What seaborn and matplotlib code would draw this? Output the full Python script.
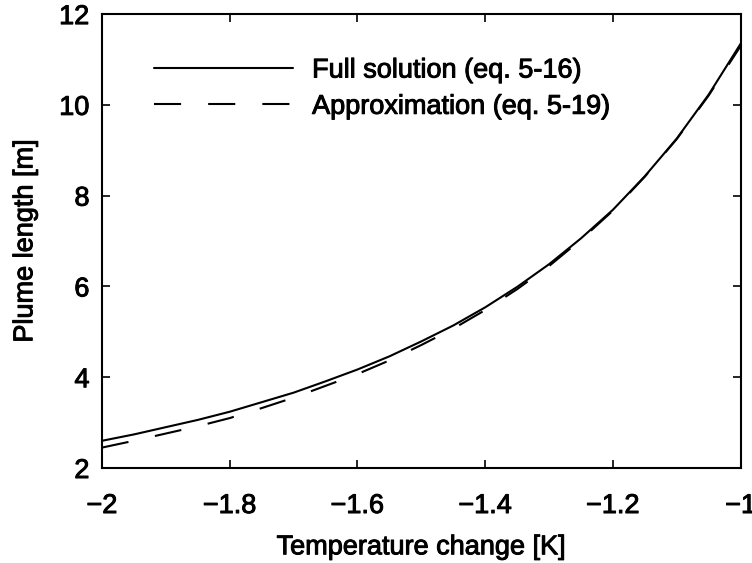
import matplotlib
matplotlib.use("Agg")
import matplotlib.pyplot as plt
import matplotlib.patheffects as pe
import seaborn as sns
import pandas as pd

temp_change = [-2.0, -1.95, -1.9, -1.85, -1.8, -1.75, -1.7, -1.65, -1.6, -1.55, -1.5,
               -1.45, -1.4, -1.35, -1.3, -1.25, -1.2, -1.15, -1.1, -1.05, -1.0]
full_solution = [2.60, 2.74, 2.90, 3.06, 3.24, 3.45, 3.66, 3.91, 4.17, 4.46, 4.79,
                 5.14, 5.54, 5.99, 6.49, 7.06, 7.69, 8.43, 9.26, 10.23, 11.35]
approximation = [2.45, 2.60, 2.76, 2.92, 3.10, 3.32, 3.55, 3.81, 4.07, 4.37, 4.71,
                 5.07, 5.48, 5.94, 6.45, 7.03, 7.67, 8.42, 9.25, 10.21, 11.30]

label_full = "Full solution (eq. 5-16)"
label_approx = "Approximation (eq. 5-19)"

sns.set_style("ticks")
plt.rcParams['font.family'] = ['Liberation Sans', 'DejaVu Sans']
plt.rcParams['text.color'] = 'black'
plt.rcParams['axes.labelcolor'] = 'black'
plt.rcParams['xtick.color'] = 'black'
plt.rcParams['ytick.color'] = 'black'

FS = 19.5
heavy = [pe.withStroke(linewidth=0.7, foreground="black")]

df = pd.DataFrame({
    "x": temp_change * 2,
    "y": full_solution + approximation,
    "series": [label_full] * len(temp_change) + [label_approx] * len(temp_change),
})

fig = plt.figure(figsize=(7.52, 5.63), dpi=100)
ax = fig.add_axes([0.1356, 0.1687, 0.8494, 0.8063])

sns.lineplot(data=df, x="x", y="y", hue="series", style="series",
             palette=["black", "black"],
             dashes={label_full: "", label_approx: (13, 13)},
             linewidth=1.5, ax=ax, legend=True)

ax.set_xlim(-2, -1)
ax.set_ylim(2, 12)
ax.set_xticks([-2, -1.8, -1.6, -1.4, -1.2, -1])
ax.set_xticklabels(["\u22122", "\u22121.8", "\u22121.6", "\u22121.4", "\u22121.2", "\u22121"],
                   fontsize=FS)
ax.set_yticks([2, 4, 6, 8, 10, 12])
ax.set_yticklabels(["2", "4", "6", "8", "10", "12"], fontsize=FS)
ax.tick_params(direction="in", length=6, width=1.2, top=True, right=True)
ax.tick_params(axis="x", pad=18)
ax.tick_params(axis="y", pad=9)
for s in ax.spines.values():
    s.set_visible(True)
    s.set_linewidth(1.5)
    s.set_color("black")
ax.set_xlabel("Temperature change [K]", fontsize=FS, labelpad=11)
ax.set_ylabel("Plume length [m]", fontsize=FS, labelpad=15)

leg = ax.legend(loc="upper left", bbox_to_anchor=(0.044, 0.958), frameon=False,
                prop={'size': FS}, handlelength=5.1,
                handletextpad=0.72, labelspacing=0.38)

for t in ax.get_xticklabels() + ax.get_yticklabels() + leg.get_texts() + \
        [ax.xaxis.label, ax.yaxis.label]:
    t.set_path_effects(heavy)

fig.savefig("out.png", dpi=100)
